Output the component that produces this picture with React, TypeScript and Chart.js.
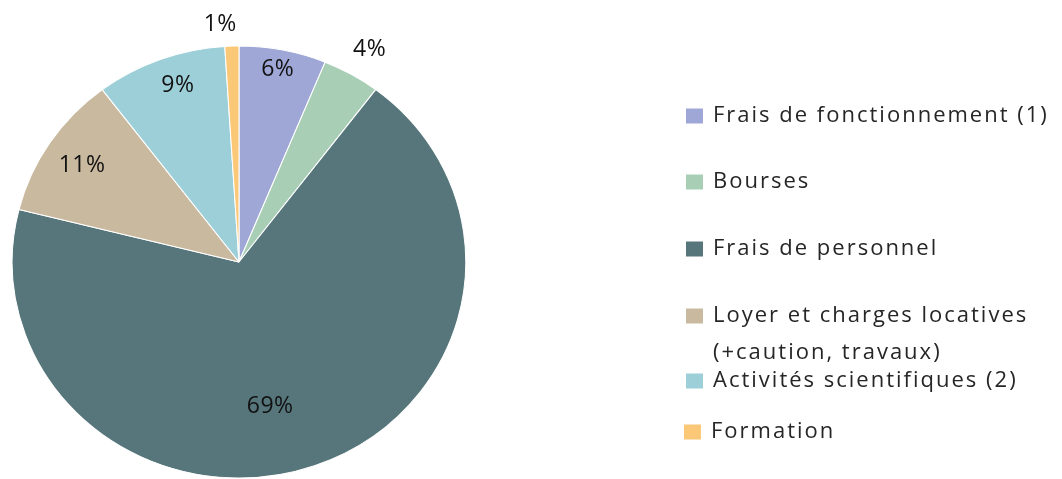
import React, { useEffect, useRef } from "react";
import { Chart, registerables } from "chart.js";

Chart.register(...registerables);

const categories = [
  "Frais de fonctionnement (1)",
  "Bourses",
  "Frais de personnel",
  "Loyer et charges locatives\n(+caution, travaux)",
  "Activités scientifiques (2)",
  "Formation",
];
const values = [6.2, 4.1, 68.6, 10.8, 9.3, 1.0];
const colors = ["#9FA7D7", "#A9CEB6", "#56767B", "#C9B99F", "#9DCFD8", "#FBC877"];

const SX = 1.05; // slight horizontal stretch of the reference pie

// label placement: radius factor and angle tweak (degrees)
const labelPlace = [
  { r: 0.906, da: -0.3 },
  { r: 1.141, da: 0.6 },
  { r: 0.681, da: 7.8 },
  { r: 0.825, da: -0.5 },
  { r: 0.862, da: 2.1 },
  { r: 1.105, da: -2.5 },
];
const legendY = [116, 182, 249, 316, 381, 432];

const FONT = '"Open Sans", "Noto Sans", sans-serif';

const stretchPlugin = {
  id: "stretch",
  beforeDatasetsDraw(chart: any) {
    const ctx = chart.ctx;
    const arc = chart.getDatasetMeta(0).data[0];
    ctx.save();
    ctx.translate(arc.x, arc.y);
    ctx.scale(SX, 1);
    ctx.translate(-arc.x, -arc.y);
  },
  afterDatasetsDraw(chart: any) {
    chart.ctx.restore();
  },
};

const labelPlugin = {
  id: "pieLabels",
  afterDatasetsDraw(chart: any) {
    const ctx = chart.ctx;
    const meta = chart.getDatasetMeta(0);
    const data = chart.data.datasets[0].data as number[];
    const total = data.reduce((a, b) => a + b, 0);
    ctx.save();
    ctx.font = `23px ${FONT}`;
    (ctx as any).letterSpacing = "0.5px";
    ctx.fillStyle = "#111111";
    ctx.textAlign = "center";
    ctx.textBaseline = "middle";
    meta.data.forEach((arc: any, i: number) => {
      const { x, y, startAngle, endAngle, outerRadius } = arc.getProps(
        ["x", "y", "startAngle", "endAngle", "outerRadius"],
        true
      );
      const p = labelPlace[i];
      const mid = (startAngle + endAngle) / 2 + (p.da * Math.PI) / 180;
      const r = outerRadius * p.r;
      const lx = x + Math.cos(mid) * r * SX;
      const ly = y + Math.sin(mid) * r;
      const pct = Math.round((data[i] / total) * 100);
      ctx.fillText(`${pct}%`, lx, ly);
    });
    ctx.restore();
  },
};

const legendPlugin = {
  id: "customLegend",
  afterDraw(chart: any) {
    const ctx = chart.ctx;
    const labels = chart.data.labels as string[];
    const bg = chart.data.datasets[0].backgroundColor as string[];
    ctx.save();
    ctx.font = `22px ${FONT}`;
    (ctx as any).letterSpacing = "2px";
    ctx.textBaseline = "middle";
    ctx.textAlign = "left";
    labels.forEach((lab, i) => {
      const cy = legendY[i];
      const bx = i === 5 ? 684 : 686;
      ctx.fillStyle = bg[i];
      ctx.fillRect(bx, cy - 7.5, 17, 15);
      ctx.fillStyle = "#262626";
      const lines = lab.split("\n");
      lines.forEach((ln, j) => {
        ctx.fillText(ln, bx + 27, cy + j * 37);
      });
    });
    ctx.restore();
  },
};

export default function App() {
  const ref = useRef<HTMLCanvasElement>(null);
  useEffect(() => {
    document.body.style.margin = "0";
    const chart = new Chart(ref.current as HTMLCanvasElement, {
      type: "pie",
      data: {
        labels: categories,
        datasets: [
          {
            data: values,
            backgroundColor: colors,
            borderColor: "#ffffff",
            borderWidth: 1,
            radius: 216,
          } as any,
        ],
      },
      options: {
        animation: false,
        responsive: false,
        maintainAspectRatio: false,
        layout: { padding: { left: 0, right: 584, top: 45, bottom: 0 } },
        plugins: {
          legend: { display: false },
          tooltip: { enabled: false },
        },
      },
      plugins: [stretchPlugin, labelPlugin, legendPlugin],
    });
    return () => chart.destroy();
  }, []);
  return (
    <div style={{ position: "absolute", left: 0, top: 0, width: 1062, height: 479, background: "#fff" }}>
      <canvas ref={ref} width={1062} height={479} style={{ width: 1062, height: 479, display: "block" }} />
    </div>
  );
}
